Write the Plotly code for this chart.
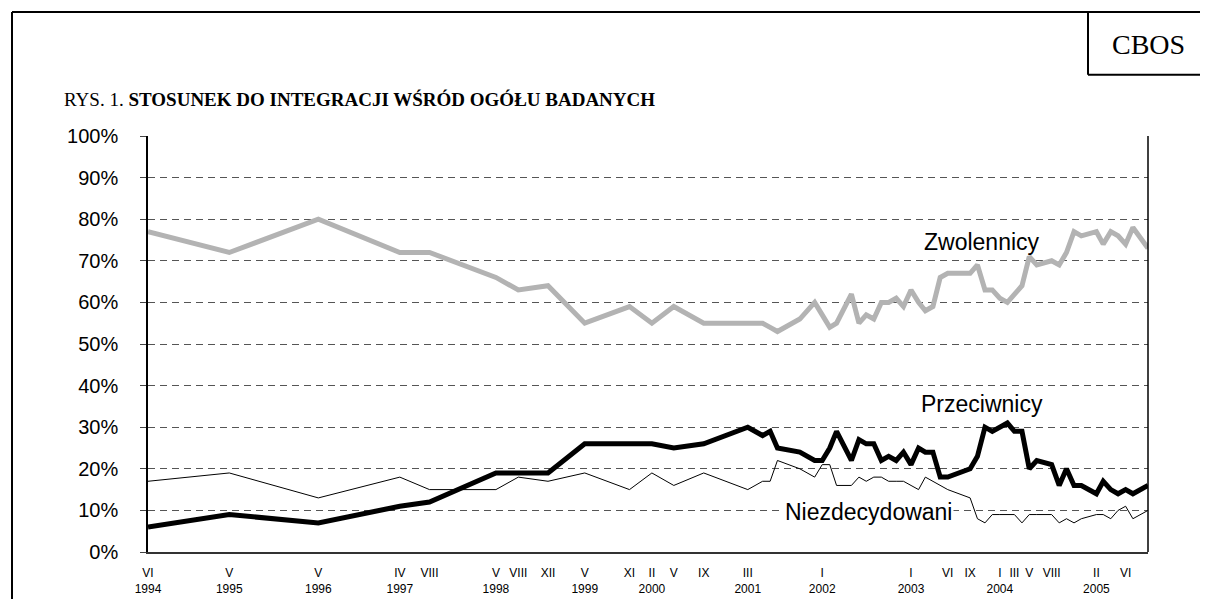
import plotly.graph_objects as go

# survey months (CBOS), values in %
survey_months = [
    "1994-06", "1995-05", "1996-05", "1997-04", "1997-08", "1998-05", "1998-08",
    "1998-12", "1999-05", "1999-11", "2000-02", "2000-05", "2000-09",
    "2001-03", "2001-05", "2001-06", "2001-07", "2001-10", "2001-12",
    "2002-01", "2002-02", "2002-03", "2002-05", "2002-06", "2002-07", "2002-08",
    "2002-09", "2002-10", "2002-11", "2002-12",
    "2003-01", "2003-02", "2003-03", "2003-04", "2003-05", "2003-06", "2003-09",
    "2003-10", "2003-11", "2003-12",
    "2004-01", "2004-02", "2004-03", "2004-04", "2004-05", "2004-06", "2004-08",
    "2004-09", "2004-10", "2004-11", "2004-12",
    "2005-02", "2005-03", "2005-04", "2005-05", "2005-06", "2005-07", "2005-09",
]
zwolennicy = [
    77, 72, 80, 72, 72, 66, 63, 64, 55, 59, 55, 59, 55,
    55, 55, 54, 53, 56, 60,
    57, 54, 55, 62, 55, 57, 56, 60, 60, 61, 59,
    63, 60, 58, 59, 66, 67, 67, 69, 63, 63,
    61, 60, 62, 64, 71, 69, 70, 69, 72, 77, 76,
    77, 74, 77, 76, 74, 78, 73,
]
przeciwnicy = [
    6, 9, 7, 11, 12, 19, 19, 19, 26, 26, 26, 25, 26,
    30, 28, 29, 25, 24, 22,
    22, 25, 29, 22, 27, 26, 26, 22, 23, 22, 24,
    21, 25, 24, 24, 18, 18, 20, 23, 30, 29,
    30, 31, 29, 29, 20, 22, 21, 16, 20, 16, 16,
    14, 17, 15, 14, 15, 14, 16,
]
niezdecydowani = [
    17, 19, 13, 18, 15, 15, 18, 17, 19, 15, 19, 16, 19,
    15, 17, 17, 22, 20, 18,
    21, 21, 16, 16, 18, 17, 18, 18, 17, 17, 17,
    16, 15, 18, 17, 16, 15, 13, 8, 7, 9,
    9, 9, 9, 7, 9, 9, 9, 7, 8, 7, 8,
    9, 9, 8, 10, 11, 8, 10,
]

tick_months = [
    "1994-06", "1995-05", "1996-05", "1997-04", "1997-08", "1998-05", "1998-08",
    "1998-12", "1999-05", "1999-11", "2000-02", "2000-05", "2000-09", "2001-03",
    "2002-01", "2003-01", "2003-06", "2003-09", "2004-01", "2004-03", "2004-05",
    "2004-08", "2005-02", "2005-06",
]
tick_text = [
    "VI<br>1994", "V<br>1995", "V<br>1996", "IV<br>1997", "VIII", "V<br>1998", "VIII",
    "XII", "V<br>1999", "XI", "II<br>2000", "V", "IX", "III<br>2001",
    "I<br>2002", "I<br>2003", "VI", "IX", "I<br>2004", "III", "V",
    "VIII", "II<br>2005", "VI",
]
y_ticks = list(range(0, 101, 10))

SANS = "Liberation Sans, Arial, sans-serif"
SERIF = "Liberation Serif, Times New Roman, serif"

fig = go.Figure()
fig.add_trace(go.Scatter(x=survey_months, y=niezdecydowani, mode="lines",
                         line=dict(color="black", width=1), name="Niezdecydowani"))
fig.add_trace(go.Scatter(x=survey_months, y=zwolennicy, mode="lines",
                         line=dict(color="#b3b3b3", width=5), name="Zwolennicy"))
fig.add_trace(go.Scatter(x=survey_months, y=przeciwnicy, mode="lines",
                         line=dict(color="black", width=5), name="Przeciwnicy"))

# series labels
fig.add_annotation(x="2003-10-20", y=74.5, text="Zwolennicy", showarrow=False,
                   font=dict(family=SANS, size=23, color="black"))
fig.add_annotation(x="2003-10-20", y=35.5, text="Przeciwnicy", showarrow=False,
                   font=dict(family=SANS, size=23, color="black"))
fig.add_annotation(x="2002-07-10", y=9.6, text="Niezdecydowani", showarrow=False,
                   bgcolor="white", font=dict(family=SANS, size=23, color="black"))

# title and CBOS box
fig.add_annotation(xref="paper", yref="paper", x=-0.086, y=1.087, xanchor="left",
                   yanchor="middle", showarrow=False,
                   text="RYS. 1. <b>STOSUNEK DO INTEGRACJI WŚRÓD OGÓŁU BADANYCH</b>",
                   font=dict(family=SERIF, size=19, color="black"))
fig.add_annotation(xref="paper", yref="paper", x=1.0, y=1.219, showarrow=False,
                   xanchor="center", yanchor="middle",
                   text="CBOS", font=dict(family=SERIF, size=28, color="black"))

frame = dict(color="black", width=2)
fig.add_shape(type="line", xref="paper", yref="paper", x0=-0.136, x1=1.07,
              y0=1.298, y1=1.298, line=frame)
fig.add_shape(type="line", xref="paper", yref="paper", x0=-0.136, x1=-0.136,
              y0=1.298, y1=-0.2, line=frame)
fig.add_shape(type="line", xref="paper", yref="paper", x0=0.94, x1=0.94,
              y0=1.298, y1=1.147, line=frame)
fig.add_shape(type="line", xref="paper", yref="paper", x0=0.94, x1=1.07,
              y0=1.147, y1=1.147, line=frame)
# right border of the plot area
fig.add_shape(type="line", xref="paper", yref="paper", x0=1, x1=1, y0=0, y1=1,
              line=dict(color="black", width=1.5))

# page body adds an 8px offset, so the figure is 8px smaller than the window
fig.update_layout(
    width=1200, height=591,
    margin=dict(l=140, r=60, t=128, b=47, autoexpand=False),
    paper_bgcolor="white", plot_bgcolor="white",
    showlegend=False,
    xaxis=dict(
        type="date", range=["1994-06-01", "2005-09-01"], automargin=False,
        tickmode="array", tickvals=tick_months, ticktext=tick_text,
        tickangle=0, ticks="", ticklabelstandoff=9,
        showgrid=False, zeroline=False,
        showline=True, linecolor="#333", linewidth=1.5,
        tickfont=dict(family=SANS, size=12, color="black"),
    ),
    yaxis=dict(
        range=[0, 100], automargin=False, tickmode="array", tickvals=y_ticks,
        ticktext=[f"{v}%" for v in y_ticks],
        ticks="outside", ticklen=6, tickcolor="#444", ticklabelstandoff=18,
        showgrid=True, gridcolor="#555", gridwidth=1, griddash="7px,5px",
        zeroline=False, showline=True, linecolor="black", linewidth=1.5,
        tickfont=dict(family=SANS, size=20, color="black"),
    ),
)

fig.write_html("out.html")
